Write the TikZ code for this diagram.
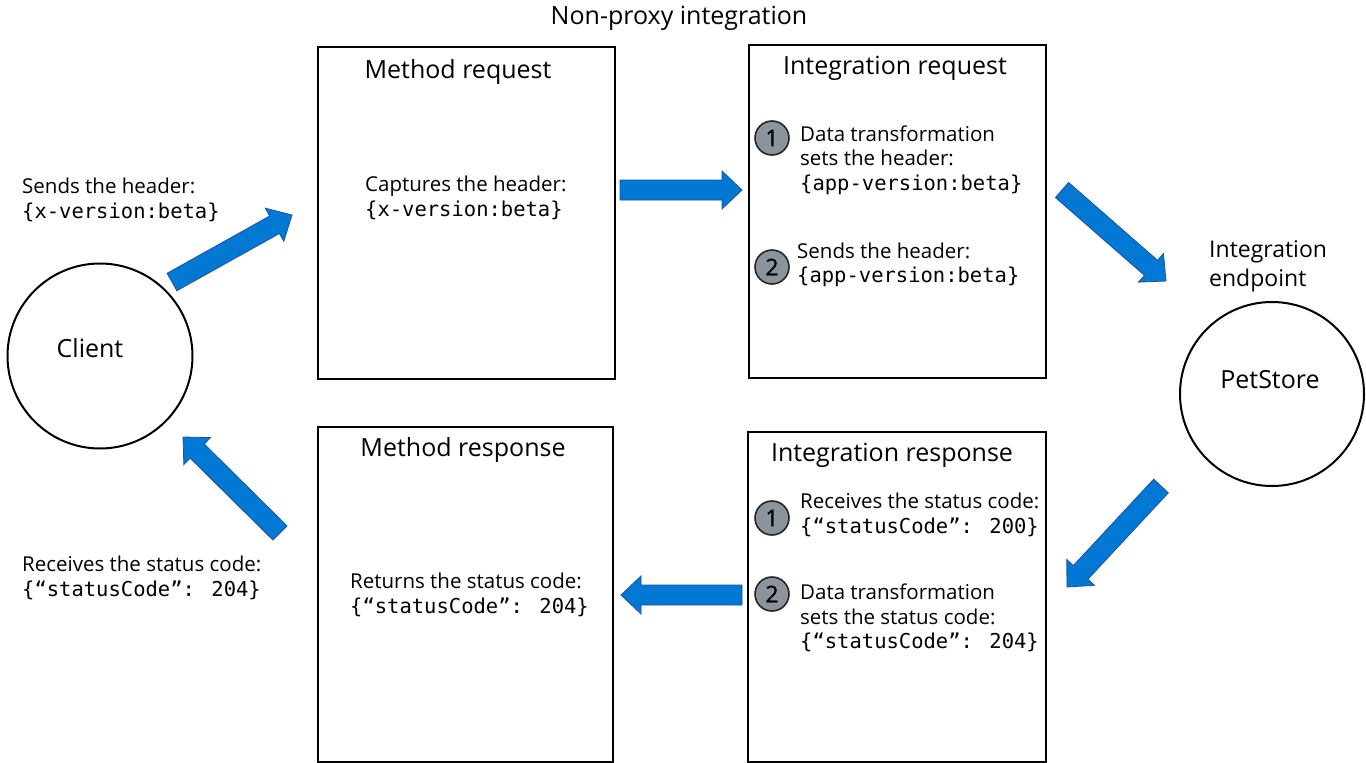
\documentclass[tikz,border=0pt]{standalone}
\usepackage{fontspec}
\setmainfont{Open Sans}
\newfontfamily\codefont{DejaVu Sans Mono}
\newfontfamily\digitfont[FakeBold=1.2]{Open Sans}
\usetikzlibrary{calc}

\definecolor{flowblue}{RGB}{0,120,212}
\definecolor{flowedge}{RGB}{30,85,150}
\definecolor{stepgray}{RGB}{139,148,155}

\newcommand\code[1]{{\codefont #1}}

% Block arrow from tail coordinate #1 to tip coordinate #2
\newcommand\blockarrow[2]{%
  \coordinate (ba-h) at ($(#2)!20pt!(#1)$);
  \filldraw[flow] ($(#1)!10pt!90:(#2)$) -- ($(ba-h)!10pt!90:(#2)$)
    -- ($(ba-h)!19pt!90:(#2)$) -- (#2) -- ($(ba-h)!19pt!-90:(#2)$)
    -- ($(ba-h)!10pt!-90:(#2)$) -- ($(#1)!10pt!-90:(#2)$) -- cycle;
}

\tikzset{
  stage/.style={draw=black, line width=2.5pt, inner sep=0pt},
  hdr/.style={font=\fontsize{25}{30}\selectfont, inner sep=0pt},
  body/.style={font=\fontsize{20.5}{24.5}\selectfont, align=left, inner sep=0pt, anchor=west},
  stepnum/.style={circle, draw=black!85, fill=stepgray, line width=1.6pt,
    minimum size=34pt, inner sep=0pt, font=\digitfont\fontsize{23}{23}\selectfont},
  actor/.style={circle, draw=black, line width=2pt, inner sep=0pt},
  flow/.style={fill=flowblue, draw=flowedge, line width=0.8pt, line join=miter},
}

\begin{document}
\begin{tikzpicture}[x=1pt, y=-1pt]
\useasboundingbox (0,0) rectangle (1366,763);
\fill[white] (0,0) rectangle (1366,763);

% title
\node[hdr] (title) at (679,18) {Non-proxy integration};

% stage boxes
\node[stage, minimum width=297pt, minimum height=332pt] (mreq) at (466.5,213) {};
\node[stage, minimum width=297pt, minimum height=333pt] (ireq) at (897.5,211.5) {};
\node[stage, minimum width=295pt, minimum height=335pt] (mresp) at (465.5,594.5) {};
\node[stage, minimum width=298pt, minimum height=330pt] (iresp) at (897,597) {};

% actors
\node[actor, minimum size=185pt] (client) at (100,356) {};
\node[actor, minimum size=184pt] (pet) at (1272,394) {};
\node[hdr] (clientT) at (90,348) {Client};
\node[hdr] (petT) at (1270,380) {PetStore};
\node[font=\fontsize{23}{29}\selectfont, align=left, anchor=west, inner sep=0pt]
  (endpoint) at (1209,266.5) {Integration\\endpoint};

% client notes
\node[body] (sends) at (22,200) {Sends the header:\\\code{\{x-version:beta\}}};
\node[body] (receives) at (22,578) {Receives the status code:\\\code{\{“statusCode”: 204\}}};

% method request
\node[hdr] (mreqT) at (458,72) {Method request};
\node[body] (mreqB) at (365,198) {Captures the header:\\\code{\{x-version:beta\}}};

% integration request
\node[hdr] (ireqT) at (895,68) {Integration request};
\node[stepnum] (ireq1) at (772,138) {1};
\node[body] (ireq1T) at (800,160) {Data transformation\\sets the header:\\\code{\{app-version:beta\}}};
\node[stepnum] (ireq2) at (772,267) {2};
\node[body] (ireq2T) at (797,265) {Sends the header:\\\code{\{app-version:beta\}}};

% method response
\node[hdr] (mrespT) at (463,450) {Method response};
\node[body] (mrespB) at (350,595) {Returns the status code:\\\code{\{“statusCode”: 204\}}};

% integration response
\node[hdr] (irespT) at (892,455) {Integration response};
\node[stepnum] (iresp1) at (772,518) {1};
\node[body] (iresp1T) at (800,515) {Receives the status code:\\\code{\{“statusCode”: 200\}}};
\node[stepnum] (iresp2) at (772,594) {2};
\node[body] (iresp2T) at (800,618) {Data transformation\\sets the status code:\\\code{\{“statusCode”: 204\}}};

% flow arrows
\coordinate (f1s) at (172,282);  \coordinate (f1e) at (292,215);
\coordinate (f2s) at (620,190);  \coordinate (f2e) at (742,190);
\coordinate (f3s) at (1062,190); \coordinate (f3e) at (1166,281);
\coordinate (f4s) at (1161,486); \coordinate (f4e) at (1067,587);
\coordinate (f5s) at (742,595);  \coordinate (f5e) at (621,595);
\coordinate (f6s) at (280,533);  \coordinate (f6e) at (183,437);
\blockarrow{f1s}{f1e}
\blockarrow{f2s}{f2e}
\blockarrow{f3s}{f3e}
\blockarrow{f4s}{f4e}
\blockarrow{f5s}{f5e}
\blockarrow{f6s}{f6e}
\end{tikzpicture}
\end{document}
